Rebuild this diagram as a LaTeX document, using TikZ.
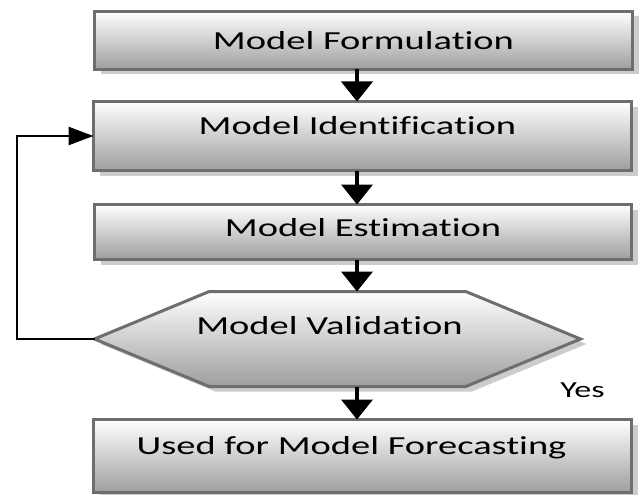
\documentclass[tikz,border=0pt]{standalone}
\usepackage{fontspec}
\setmainfont{Carlito}[FakeStretch=1.48,Ligatures={NoCommon}]
\usetikzlibrary{arrows.meta,shapes.symbols,shadows}

\tikzset{
  box/.style={draw=black!57,line width=3pt,top color=white,bottom color=black!38,
    drop shadow={shadow xshift=6pt,shadow yshift=-5pt,fill=black!20,opacity=1},
    inner sep=0pt,outer sep=0pt},
  hexbox/.style={box,signal,signal to=west and east,signal pointer angle=45},
  txt/.style={inner sep=0pt,font=\fontsize{26}{30}\selectfont},
  flow/.style={line width=4pt,-{Triangle[width=31pt,length=20pt]}},
  back/.style={line width=2.5pt,-{Triangle[width=18pt,length=25pt]}}
}

\begin{document}
\begin{tikzpicture}[x=1pt,y=-1pt]

\useasboundingbox (0,0) rectangle (640,495);

\coordinate (ax) at (357,0);
\coordinate (loop) at (17,339);

% boxes
\node[box,minimum width=538pt,minimum height=58pt] (form) at (363.5,40.5) {};
\node[box,minimum width=538pt,minimum height=69pt] (ident) at (362.5,136) {};
\node[box,minimum width=537pt,minimum height=55pt] (estim) at (363,232) {};
\node[hexbox,minimum width=486pt,minimum height=95pt] (valid) at (337.5,339) {};
\node[box,minimum width=538pt,minimum height=73pt] (fore) at (362.5,456) {};

% texts
\node[txt] (formtext) at (form) {Model Formulation};
\node[txt] (identtext) at ([shift={(-5,-10)}]ident) {Model Identification};
\node[txt] (estimtext) at ([shift={(0,-4)}]estim) {Model Estimation};
\node[txt] (validtext) at ([shift={(-8,-13)}]valid) {Model Validation};
\node[txt] (foretext) at ([shift={(-11,-8.5)}]fore) {Used for Model Forecasting};
\node[txt,font=\fontsize{23}{27}\selectfont] (yes) at (582.5,390) {Yes};

% arrows
\draw[flow] (form.south -| ax) -- (ident.north -| ax);
\draw[flow] (ident.south -| ax) -- (estim.north -| ax);
\draw[flow] (estim.south -| ax) -- (valid.north -| ax);
\draw[flow] (valid.south -| ax) -- (fore.north -| ax);
\draw[back] (valid.west) -- (loop) |- (ident.west); % back to identification

\end{tikzpicture}
\end{document}
